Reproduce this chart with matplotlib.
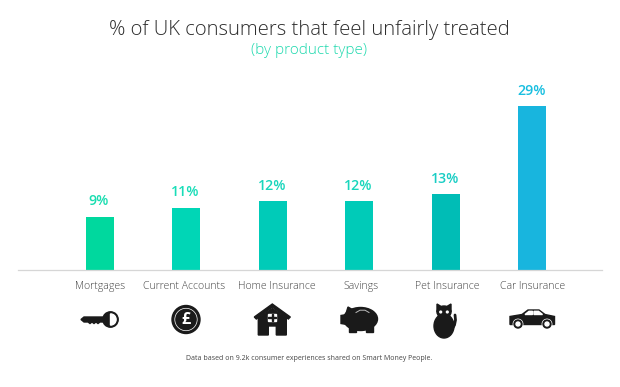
import matplotlib
matplotlib.use("Agg")
import matplotlib.pyplot as plt
from matplotlib.patches import Polygon, Circle, Ellipse, Rectangle, Wedge

categories = ["Mortgages", "Current Accounts", "Home Insurance", "Savings", "Pet Insurance", "Car Insurance"]
values = [9.4, 11.0, 12.2, 12.2, 13.4, 29.0]
value_labels = ["9%", "11%", "12%", "12%", "13%", "29%"]
bar_colors = ["#00D89E", "#00D6B6", "#00CBB8", "#00CBB8", "#00BDB6", "#18B5DE"]
label_colors = ["#19DDB0", "#19DDB8", "#19D6BC", "#19D6BC", "#19CDC4", "#19BFE0"]
label_centers = [100.5, 184.3, 276.4, 361, 447.5, 532.6]

W, H = 620, 387
plt.rcParams["font.family"] = ["Open Sans", "DejaVu Sans"]
fig = plt.figure(figsize=(W / 100, H / 100), dpi=100, facecolor="white")

base_px, unit_px, step, x0_px = 270.2, 5.66, 86.5, 99.5
left, right = 18, 602
ax = fig.add_axes([left / W, (H - base_px) / H, (right - left) / W, base_px / H])
ax.set_xlim((left - x0_px) / step, (right - x0_px) / step)
ax.set_ylim(0, base_px / unit_px)
ax.bar(range(len(values)), values, width=28 / step, color=bar_colors, edgecolor="none", zorder=2)
for i, v in enumerate(values):
    ax.annotate(value_labels[i], (i, v), xytext=(-0.5, 8.5), textcoords="offset pixels", ha="center", va="bottom",
                fontsize=10.2, fontweight=600, color=label_colors[i])
ax.set_xticks([]); ax.set_yticks([])
for s in ("top", "left", "right"):
    ax.spines[s].set_visible(False)
ax.spines["bottom"].set_color("#D6D6D6")
ax.spines["bottom"].set_linewidth(0.9)
ax.patch.set_alpha(0)

ov = fig.add_axes([0, 0, 1, 1]); ov.set_xlim(0, W); ov.set_ylim(H, 0); ov.axis("off")
ov.text(309, 30, "% of UK consumers that feel unfairly treated", ha="center", va="center",
        fontsize=14.6, fontweight="light", color="#2E2E2E")
ov.text(309, 50, "(by product type)", ha="center", va="center", fontsize=11, fontweight="light", color="#1FD9AE")
for xc, c in zip(label_centers, categories):
    ov.text(xc, 286.5, c, ha="center", va="center", fontsize=7.6, color="#444444", fontweight="light")
ov.text(309.5, 358.5, "Data based on 9.2k consumer experiences shared on Smart Money People.", ha="center", va="center",
        fontsize=5.0, color="#444444")

K = "#1A1A1A"
def add(p):
    ov.add_patch(p)

# key
cx, cy = 100, 319.5
add(Circle((cx + 10.5, cy), 7.7, color=K))
add(Wedge((cx + 10.5, cy), 5.6, -90, 90, color="white"))
add(Polygon([(cx - 19, cy), (cx - 16, cy - 2.5), (cx + 5, cy - 2.5), (cx + 5, cy + 2.5), (cx + 0, cy + 2.5), (cx - 2, cy + 4),
             (cx - 4, cy + 2.5), (cx - 6, cy + 4), (cx - 8, cy + 2.5), (cx - 10, cy + 4), (cx - 12, cy + 2.5), (cx - 16, cy + 2.5)], color=K))
# pound coin
cx, cy = 186, 319.5
add(Circle((cx, cy), 14, color=K))
add(Circle((cx, cy), 11.2, fill=False, ec="white", lw=0.5))
ov.text(cx + 0.3, cy, "£", ha="center", va="center", fontsize=11.5, fontweight="bold", color="white")
# house
cx, cy = 272.3, 320
add(Polygon([(cx - 18, cy - 3), (cx, cy - 16), (cx + 18, cy - 3), (cx + 16, cy - 1), (cx, cy - 13), (cx - 16, cy - 1)], color=K))
add(Polygon([(cx - 14, cy - 2), (cx, cy - 11.5), (cx + 14, cy - 2), (cx + 14, cy + 15), (cx + 4, cy + 15), (cx + 4, cy + 6),
             (cx - 4, cy + 6), (cx - 4, cy + 15), (cx - 14, cy + 15)], color=K))
add(Rectangle((cx - 4, cy - 6), 8, 7, color="white"))
add(Rectangle((cx - 0.5, cy - 6), 1, 7, color=K))
add(Rectangle((cx - 4, cy - 3), 8, 1, color=K))
# piggy bank
cx, cy = 359, 319.5
add(Ellipse((cx + 1.5, cy - 0.5), 34, 23, color=K))
add(Polygon([(cx - 18, cy - 4), (cx - 12, cy - 5), (cx - 12, cy + 5), (cx - 18, cy + 4)], color=K))
add(Polygon([(cx - 13, cy - 6), (cx - 11, cy - 12.5), (cx - 5, cy - 9)], color=K))
add(Rectangle((cx - 10, cy + 6), 7, 6, color=K))
add(Rectangle((cx + 7, cy + 6), 7, 6, color=K))
ov.plot([cx - 3, cx + 1, cx + 6, cx + 10], [cy - 7, cy - 9.3, cy - 9.3, cy - 7], color="#BBBBBB", lw=0.7)
# cat
cx, cy = 444, 320
add(Ellipse((cx, cy + 6), 20, 24, color=K))
add(Ellipse((cx, cy - 8), 14, 12, color=K))
add(Polygon([(cx - 7, cy - 8), (cx - 7, cy - 16), (cx - 2, cy - 13)], color=K))
add(Polygon([(cx + 7, cy - 8), (cx + 7, cy - 16), (cx + 2, cy - 13)], color=K))
ov.plot([cx + 7, cx + 10.5, cx + 11.5, cx + 11], [cy + 11, cy + 5, cy, cy - 5], color=K, lw=2, solid_capstyle="round")
add(Circle((cx - 3.3, cy - 8), 0.9, color="white"))
add(Circle((cx + 3.3, cy - 8), 0.9, color="white"))
# car
cx, cy = 531, 319.5
add(Polygon([(cx - 21, cy - 3), (cx - 9, cy - 5), (cx - 3, cy - 9.5), (cx + 8, cy - 9.5), (cx + 14, cy - 5), (cx + 23.5, cy - 3),
             (cx + 23.5, cy + 5), (cx - 21, cy + 5)], color=K))
add(Polygon([(cx - 6, cy - 5), (cx - 2, cy - 8.2), (cx + 1.5, cy - 8.2), (cx + 1.5, cy - 5)], color="white"))
add(Polygon([(cx + 3, cy - 5), (cx + 3, cy - 8.2), (cx + 7.5, cy - 8.2), (cx + 11.5, cy - 5)], color="white"))
for dx in (-13, 16):
    add(Circle((cx + dx, cy + 4.5), 4.7, color="white"))
    add(Circle((cx + dx, cy + 4.5), 4, color=K))
    add(Circle((cx + dx, cy + 4.5), 2, color="white"))

fig.savefig("out.png", dpi=100, facecolor="white")
